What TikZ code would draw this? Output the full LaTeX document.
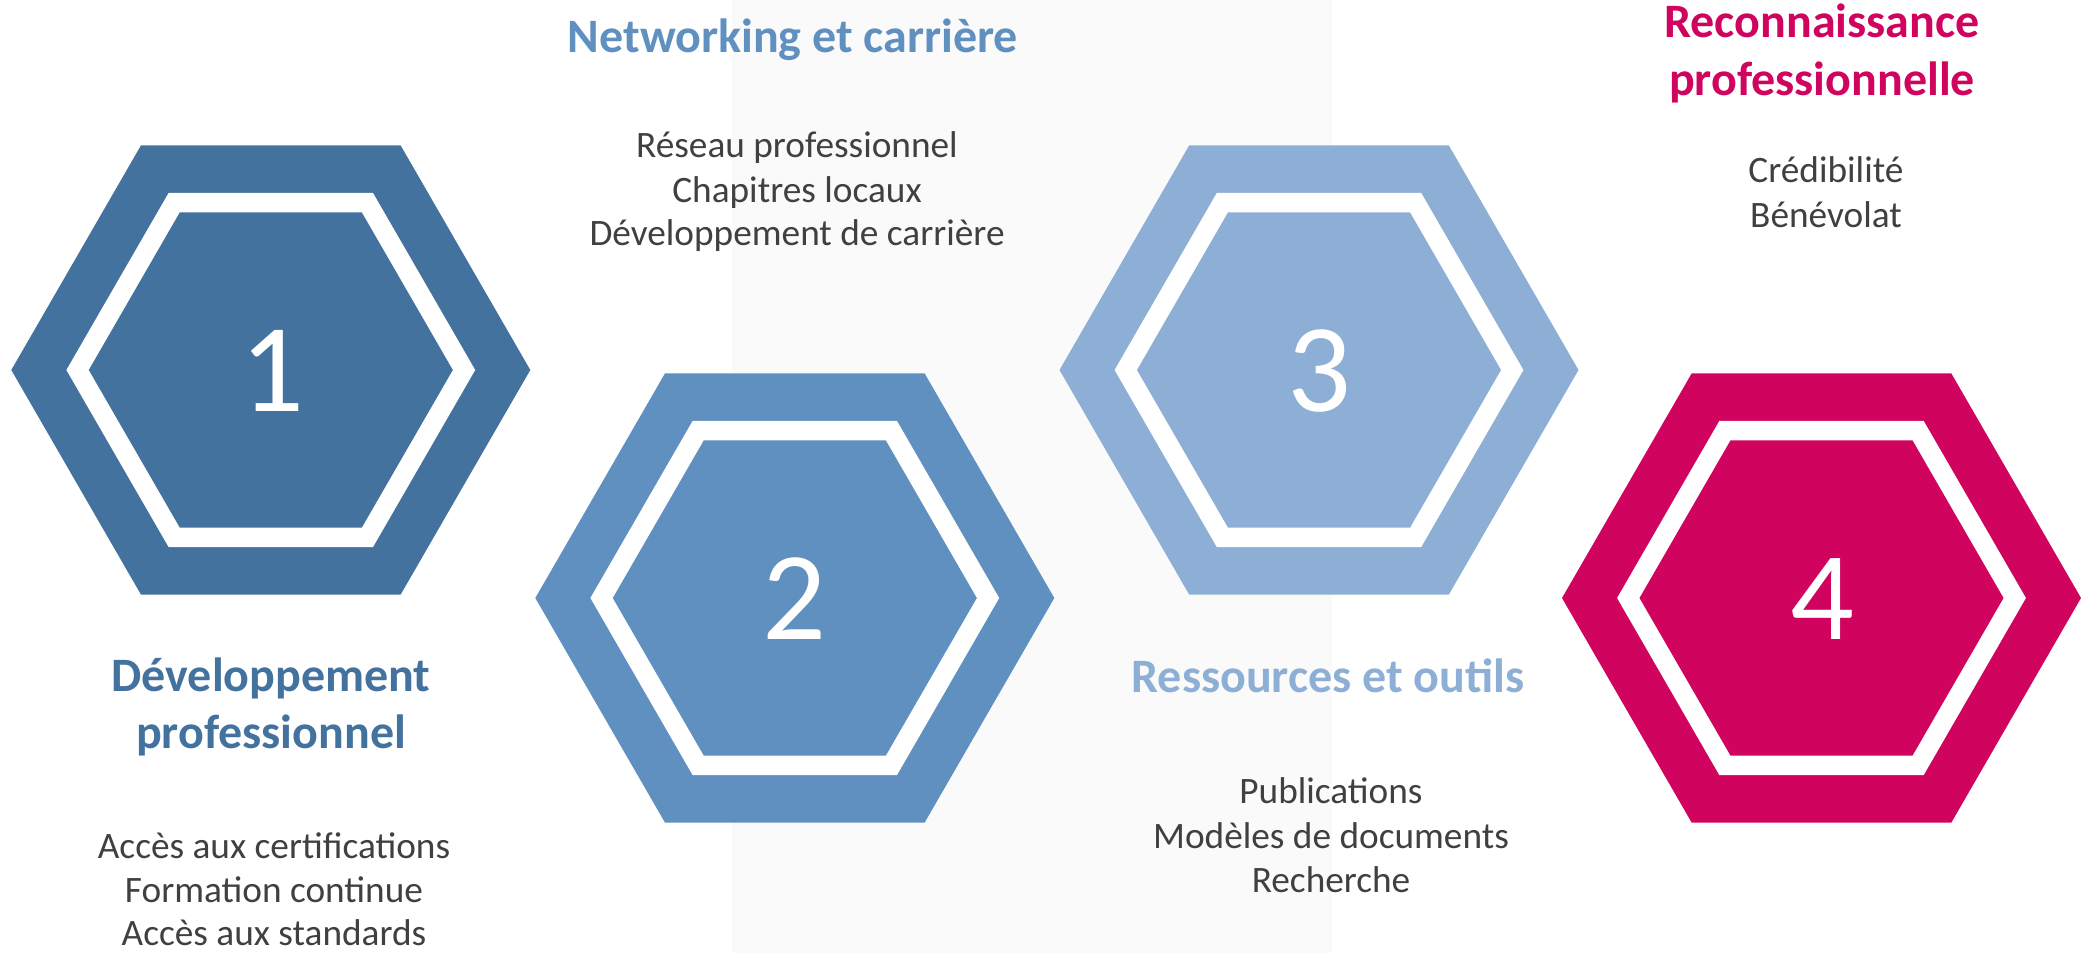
\documentclass[tikz,border=0pt]{standalone}
\usepackage{fontspec}
\setmainfont{Carlito}
\definecolor{cone}{HTML}{44729E}
\definecolor{ctwo}{HTML}{5F90C0}
\definecolor{cthree}{HTML}{8EAFD5}
\definecolor{cfour}{HTML}{D0035E}
\definecolor{txtgray}{HTML}{404040}
\definecolor{bandgray}{HTML}{FAFAFA}
\newcommand\hexring[2]{(0:#1) -- (60:#1) -- (120:#1) -- (180:#1) -- (240:#1) -- (300:#1) -- cycle}
\newcommand\drawhex[3]{%
  \begin{scope}[shift={(#1,#2)}]
    \fill[#3] \hexring{259.5}{};
    \fill[white] \hexring{204.4}{};
    \fill[#3] \hexring{182}{};
  \end{scope}}
\begin{document}
\begin{tikzpicture}[x=1pt,y=-1pt,
  title/.style={font=\fontsize{48}{56}\selectfont\bfseries, anchor=base, inner sep=0pt},
  body/.style={font=\fontsize{37.3}{44}\selectfont, text=txtgray, anchor=base, inner sep=0pt},
  num/.style={font=\fontsize{126}{130}\selectfont, text=white, inner sep=0pt}]
\useasboundingbox (0,0) rectangle (2081,953);
\fill[bandgray] (732,0) rectangle (1332,953);

\drawhex{270.8}{370}{cone}
\drawhex{794.8}{598}{ctwo}
\drawhex{1319}{370}{cthree}
\drawhex{1821.5}{598}{cfour}

\node[num] (n1) at (272,371) {1};
\node[num] (n2) at (794.8,599) {2};
\node[num] (n3) at (1319,371) {3};
\node[num] (n4) at (1822.5,599) {4};

\node[title, text=cone] (t1a) at (271,691) {Développement};
\node[title, text=cone] (t1b) at (271,748) {professionnel};
\node[body] (b1a) at (274,858) {Accès aux certifications};
\node[body] (b1b) at (274,902) {Formation continue};
\node[body] (b1c) at (274,945) {Accès aux standards};

\node[title, text=ctwo] (t2) at (793,52) {Networking et carrière};
\node[body] (b2a) at (797,157) {Réseau professionnel};
\node[body] (b2b) at (797,202) {Chapitres locaux};
\node[body] (b2c) at (797,245) {Développement de carrière};

\node[title, text=cthree] (t3) at (1328,692) {Ressources et outils};
\node[body] (b3a) at (1331,803) {Publications};
\node[body] (b3b) at (1331,848) {Modèles de documents};
\node[body] (b3c) at (1331,892) {Recherche};

\node[title, text=cfour] (t4a) at (1822,37) {Reconnaissance};
\node[title, text=cfour] (t4b) at (1822,95) {professionnelle};
\node[body] (b4a) at (1826,182) {Crédibilité};
\node[body] (b4b) at (1826,227) {Bénévolat};
\end{tikzpicture}
\end{document}
